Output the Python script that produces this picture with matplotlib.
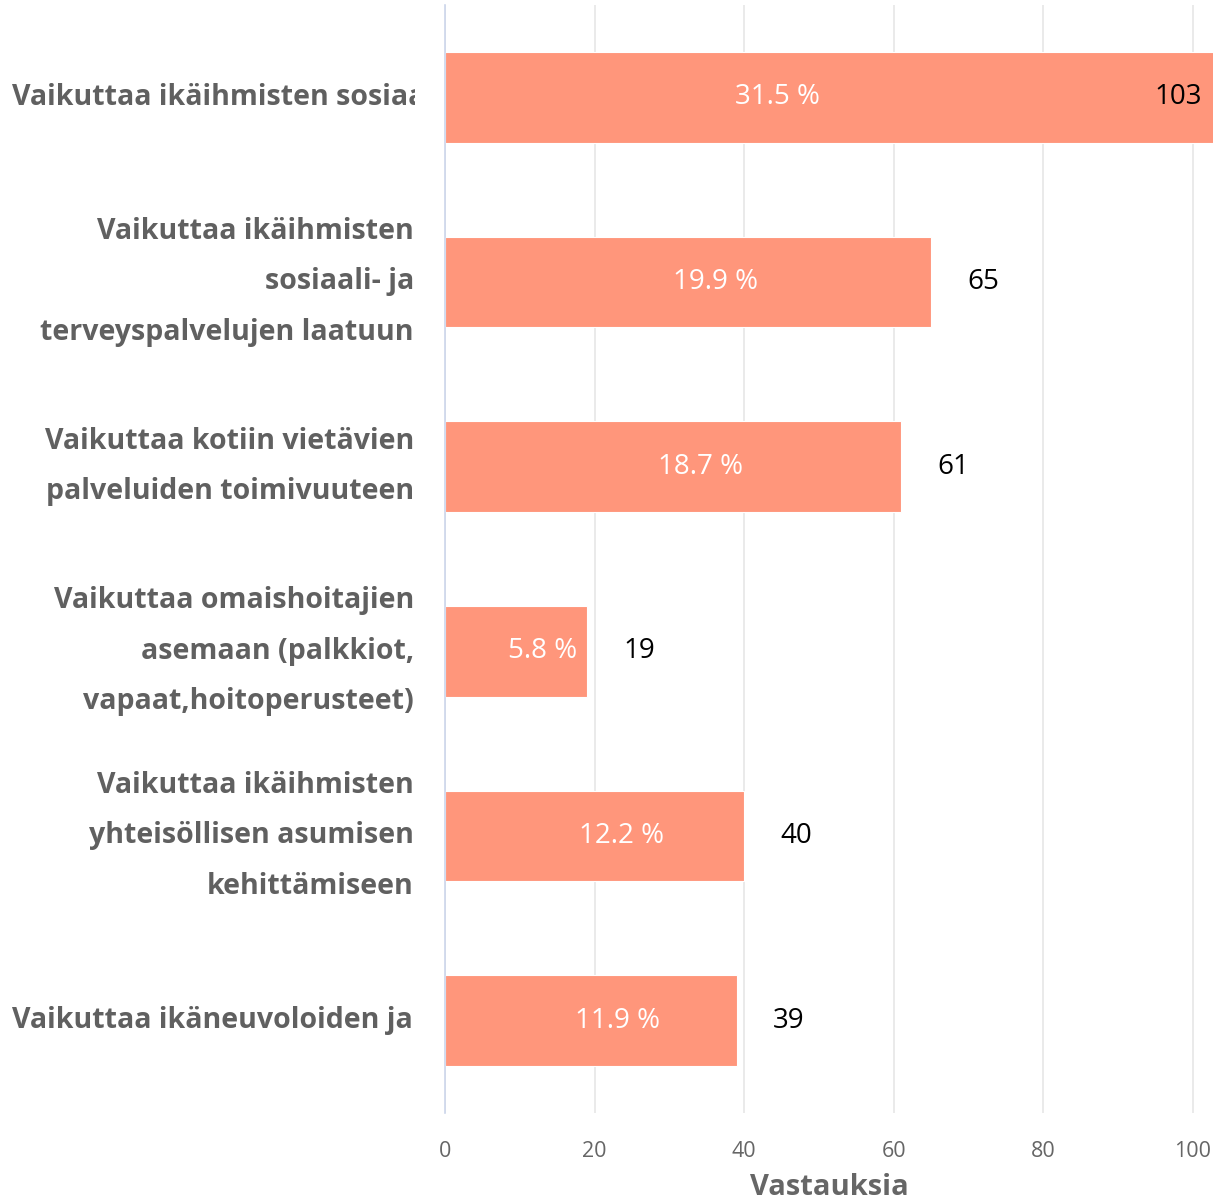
import matplotlib
matplotlib.use("Agg")
import matplotlib.pyplot as plt
from matplotlib.transforms import Bbox, TransformedBbox, blended_transform_factory, offset_copy

plt.rcParams['font.family'] = ['Open Sans', 'DejaVu Sans']

# data
labels = [
    "Vaikuttaa ikäihmisten sosiaaliseen hyvinvointiin",
    "Vaikuttaa ikäihmisten\nsosiaali- ja\nterveyspalvelujen laatuun",
    "Vaikuttaa kotiin vietävien\npalveluiden toimivuuteen",
    "Vaikuttaa omaishoitajien\nasemaan (palkkiot,\nvapaat,hoitoperusteet)",
    "Vaikuttaa ikäihmisten\nyhteisöllisen asumisen\nkehittämiseen",
    "Vaikuttaa ikäneuvoloiden ja",
]
truncated = [True, False, False, False, False, True]
counts = [103, 65, 61, 19, 40, 39]
percents = [31.5, 19.9, 18.7, 5.8, 12.2, 11.9]
xticks = [0, 20, 40, 60, 80, 100]

W, H = 1221, 1204
fig = plt.figure(figsize=(W / 100, H / 100), dpi=100)
ax = fig.add_axes([445 / W, 1 - 1113 / H, (1213 - 445) / W, (1113 - 5) / H])

xmax = 102.7
bar_color = "#ff967b"
y = list(range(len(counts)))
ax.barh(y, counts, height=0.49, color=bar_color, edgecolor="white", linewidth=0.8, zorder=2)
ax.set_xlim(0, xmax)
ax.set_ylim(len(counts) - 0.5, -0.5)

ax.set_xticks(xticks)
ax.set_xticklabels([str(t) for t in xticks], fontsize=15.5, color="#666666")
ax.tick_params(axis="x", length=0, pad=20)
ax.set_yticks([])
ax.grid(axis="x", color="#e6e6e6", linewidth=1.2, zorder=0)
for s in ["top", "right", "bottom"]:
    ax.spines[s].set_visible(False)
ax.spines["left"].set_color("#ccd6eb")
ax.spines["left"].set_linewidth(1.2)
ax.set_xlabel("Vastauksia", fontsize=21, fontweight="bold", color="#666666", labelpad=8)

# data labels
for i, (c, p) in enumerate(zip(counts, percents)):
    if c > xmax:
        tp = offset_copy(ax.transData, fig=fig, x=-52, y=0, units="dots")
        ax.text(xmax / 2, i, f"{p} %", transform=tp, ha="center", va="center",
                fontsize=20, color="white", zorder=3)
        tc = offset_copy(ax.transData, fig=fig, x=-11, y=0, units="dots")
        ax.text(xmax, i, str(c), transform=tc, ha="right", va="center",
                fontsize=20, color="black", zorder=3)
    else:
        tp = offset_copy(ax.transData, fig=fig, x=27, y=0, units="dots")
        ax.text(c / 2, i, f"{p} %", transform=tp, ha="center", va="center",
                fontsize=20, color="white", zorder=3)
        tc = offset_copy(ax.transData, fig=fig, x=36, y=0, units="dots")
        ax.text(c, i, str(c), transform=tc, ha="left", va="center",
                fontsize=20, color="black", zorder=3)

# category labels
trans = blended_transform_factory(fig.transFigure, ax.transData)
clip = TransformedBbox(Bbox([[0, 0], [415 / W, 1]]), fig.transFigure)
for i, (lab, tr) in enumerate(zip(labels, truncated)):
    if tr:
        t = ax.text(12 / W, i, lab, transform=trans, ha="left", va="center",
                    fontsize=20.5, fontweight="bold", color="#606060", clip_on=True)
        t.set_clip_box(clip)
    else:
        ax.text(414 / W, i, lab, transform=trans, ha="right", va="center",
                fontsize=20.5, fontweight="bold", color="#606060",
                linespacing=1.97, multialignment="right", clip_on=False)

fig.savefig("out.png", dpi=100)
